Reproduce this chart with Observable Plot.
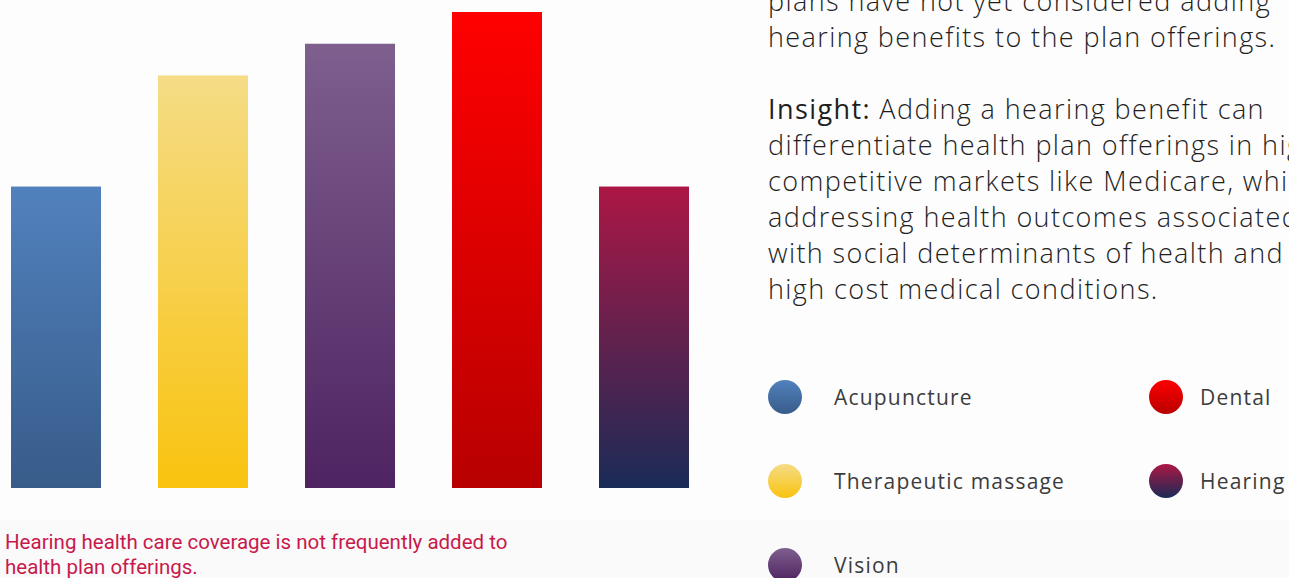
<!DOCTYPE html>
<html>
<head>
<meta charset="utf-8">
<script src="https://cdn.jsdelivr.net/npm/d3@7"></script>
<script src="https://cdn.jsdelivr.net/npm/@observablehq/plot@0.6"></script>
<style>
  html, body { margin: 0; padding: 0; width: 1289px; height: 578px; overflow: hidden; background: #fdfdfd; font-family: Roboto, "Open Sans", sans-serif; }
  #band { position: absolute; left: 0; top: 520px; width: 1289px; height: 58px; background: #fafafa; }
  #chart { position: absolute; left: 0; top: 0; }
  #caption { position: absolute; left: 5px; top: 530px; font-size: 20.5px; line-height: 25px; color: #c8194b; white-space: nowrap; }
  #text { position: absolute; left: 768px; top: -17px; font-family: "Open Sans", Roboto, sans-serif; font-size: 27px; line-height: 36px; letter-spacing: 1.4px; color: #1f1f1f; white-space: nowrap; font-weight: 300; }
  #text p { margin: 0 0 36px 0; }
  #text b { font-weight: 400; }
  .leg { position: absolute; display: flex; align-items: center; font-family: "Open Sans", Roboto, sans-serif; font-size: 21px; letter-spacing: 1.2px; color: #3c3c3c; white-space: nowrap; }
  .leg .dot { width: 34px; height: 34px; border-radius: 50%; margin-right: 32px; }
</style>
</head>
<body>
<div id="band"></div>
<div id="chart"></div>
<div id="text">
  <p>plans have not yet considered adding<br>hearing benefits to the plan offerings.</p>
  <p><b>Insight:</b> Adding a hearing benefit can<br>differentiate health plan offerings in highly<br>competitive markets like Medicare, while<br>addressing health outcomes associated<br>with social determinants of health and<br>high cost medical conditions.</p>
</div>
<div id="legend"></div>
<div id="caption">Hearing health care coverage is not frequently added to<br>health plan offerings.</div>
<script>
const categories = ["Acupuncture", "Therapeutic massage", "Vision", "Dental", "Hearing"];
const values = [38, 52, 56, 60, 38];
const gradTop = ["#5181bd", "#f5dc86", "#7e5f8e", "#ff0000", "#ac1745"];
const gradBottom = ["#385c8a", "#f9c30f", "#4e2361", "#b80000", "#1a2b57"];

const data = categories.map((c, i) => ({cat: c, value: values[i], i}));

const NS = "http://www.w3.org/2000/svg";
function defsMark() {
  const g = document.createElementNS(NS, "g");
  const defs = document.createElementNS(NS, "defs");
  categories.forEach((c, i) => {
    const lg = document.createElementNS(NS, "linearGradient");
    lg.setAttribute("id", "g" + i);
    lg.setAttribute("x1", "0"); lg.setAttribute("y1", "0");
    lg.setAttribute("x2", "0"); lg.setAttribute("y2", "1");
    const s1 = document.createElementNS(NS, "stop");
    s1.setAttribute("offset", "0"); s1.setAttribute("stop-color", gradTop[i]);
    const s2 = document.createElementNS(NS, "stop");
    s2.setAttribute("offset", "1"); s2.setAttribute("stop-color", gradBottom[i]);
    lg.appendChild(s1); lg.appendChild(s2);
    defs.appendChild(lg);
  });
  g.appendChild(defs);
  return g;
}

const chart = Plot.plot({
  width: 700,
  height: 500,
  marginTop: 12,
  marginBottom: 12,
  marginLeft: 10,
  marginRight: 10,
  x: {domain: categories, paddingInner: 0.39, paddingOuter: 0, axis: null},
  y: {domain: [0, 60], axis: null},
  color: {type: "identity"},
  style: {background: "transparent"},
  marks: [
    defsMark,
    Plot.barY(data, {x: "cat", y: "value", fill: d => `url(#g${d.i})`})
  ]
});
document.getElementById("chart").appendChild(chart);

const legend = document.getElementById("legend");
categories.forEach((c, i) => {
  const col = i < 3 ? 0 : 1;
  const row = i % 3;
  const el = document.createElement("div");
  el.className = "leg";
  el.style.left = (col === 0 ? 768 : 1149) + "px";
  el.style.top = (380 + row * 84) + "px";
  const dot = document.createElement("div");
  dot.className = "dot";
  dot.style.background = `linear-gradient(to bottom, ${gradTop[i]}, ${gradBottom[i]})`;
  if (col === 1) dot.style.marginRight = "17px";
  const lab = document.createElement("span");
  lab.textContent = c;
  el.appendChild(dot); el.appendChild(lab);
  legend.appendChild(el);
});
</script>
</body>
</html>
